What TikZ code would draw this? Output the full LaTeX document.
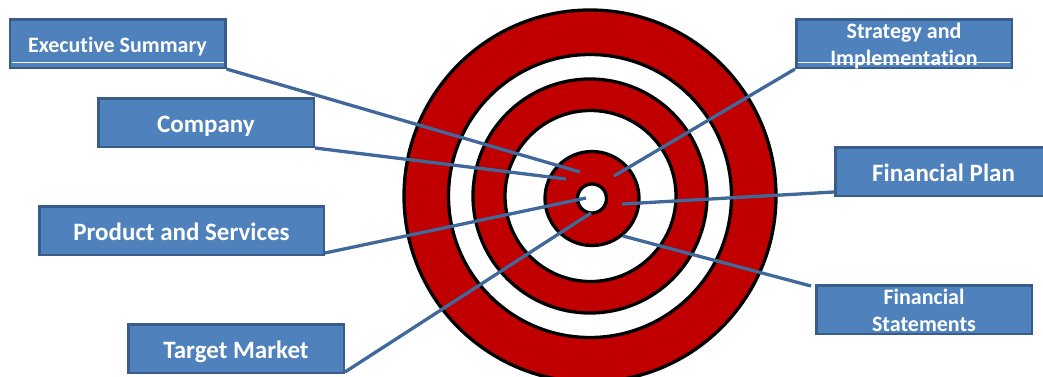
\documentclass[tikz,border=0pt]{standalone}
\usepackage{fontspec}
\setmainfont{Carlito}[Ligatures=NoCommon]
\usetikzlibrary{calc}
\definecolor{tred}{HTML}{C00000}
\definecolor{bfill}{HTML}{4F81BD}
\definecolor{bedge}{HTML}{385D8A}
\definecolor{connc}{HTML}{41689B}
\newcommand\bxlbl[2]{\raisebox{-#1}[0pt][0pt]{#2}}
\pgfdeclarelayer{bg}
\pgfdeclarelayer{mid}
\pgfsetlayers{bg,mid,main}
\begin{document}
\begin{tikzpicture}[x=1pt,y=-1pt,
  ring/.style={draw=black,line width=3.3pt},
  bx/.style={draw=bedge,fill=bfill,line width=2.5pt,rectangle,inner sep=0pt,
    minimum height=48.5pt,minimum width=215.5pt,text=white},
  big/.style={font=\fontsize{25}{30}\selectfont\bfseries},
  small/.style={font=\fontsize{22}{27}\selectfont\bfseries},
  conn/.style={draw=connc,line width=3.3pt},
  artifact/.style={draw=white,line width=1pt}]
\clip (0,0) rectangle (1043,376);
\begin{pgfonlayer}{bg}
\fill[white] (0,0) rectangle (1043,376);
% target
\filldraw[ring,fill=tred]   (590,196) circle[radius=186pt];
\filldraw[ring,fill=white]  (590,196) circle[radius=141.5pt];
\filldraw[ring,fill=tred]   (590,196) circle[radius=117pt];
\filldraw[ring,fill=white]  (590.5,196) circle[radius=85.5pt];
\filldraw[ring,fill=tred]   (592,198.5) circle[radius=47pt];
\filldraw[ring,fill=white]  (592,198.5) circle[radius=14.5pt];
\end{pgfonlayer}
% end points on the target
\coordinate (tES) at (580,172);
\coordinate (tCO) at (566,179);
\coordinate (tPS) at (586,198);
\coordinate (tTM) at (591,213);
\coordinate (tST) at (614,176);
\coordinate (tFP) at (622,204);
\coordinate (tFS) at (623,236);
% boxes
\node[bx,small] (es) at (117.5,43.5) {\bxlbl{8.5pt}{Executive Summary}};
\node[bx,big] (co) at (206,122.5) {\bxlbl{9.5pt}{Company}};
\node[bx,big,minimum width=284.5pt] (ps) at (181.5,230.5) {\bxlbl{9.5pt}{Product and Services}};
\node[bx,big] (tm) at (236,348.5) {\bxlbl{9.5pt}{Target Market}};
\node[bx,small] (st) at (904,43.5) {\bxlbl{21.5pt}{\begin{tabular}[b]{@{}c@{}}Strategy and\\Implementation\end{tabular}}};
\node[bx,big,minimum width=216.5pt] (fp) at (943.5,171.5) {\bxlbl{10pt}{Financial Plan}};
\node[bx,small] (fs) at (924,309.5) {\bxlbl{21.5pt}{\begin{tabular}[b]{@{}c@{}}Financial\\Statements\end{tabular}}};
% connectors
\begin{pgfonlayer}{mid}
\draw[conn] (es.south east) -- (tES);
\draw[conn] (co.south east) -- (tCO);
\draw[conn] ([yshift=3pt]ps.south east) -- (tPS);
\draw[conn] ([yshift=2pt]tm.south east) -- (tTM);
\draw[conn] (st.south west) -- (tST);
\draw[conn] ([yshift=5pt]fp.south west) -- (tFP);
\draw[conn] ([xshift=-4pt,yshift=-2pt]fs.north west) -- (tFS);
\end{pgfonlayer}
% thin white lines seen in two boxes
\draw[artifact] ($(es.south west)+(3,-7)$) -- ($(es.south east)+(-3,-7)$);
\draw[artifact] ($(st.south west)+(3,-7)$) -- ($(st.south east)+(-3,-7)$);
\end{tikzpicture}
\end{document}
